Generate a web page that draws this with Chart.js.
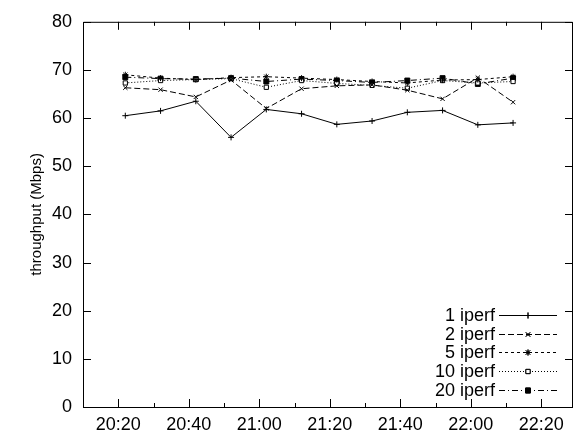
<!DOCTYPE html>
<html>
<head>
<meta charset="utf-8">
<script src="https://cdn.jsdelivr.net/npm/chart.js@4/dist/chart.umd.min.js"></script>
<style>
  html, body { margin: 0; padding: 0; background: #fff; }
  #wrap { width: 578px; height: 439px; }
</style>
</head>
<body>
<div id="wrap"><canvas id="Chart" width="578" height="439"></canvas></div>
<script>
// sample times (hh:mm) and throughput in Mbps
let times = ['20:22', '20:32', '20:42', '20:52', '21:02', '21:12', '21:22', '21:32', '21:42', '21:52', '22:02', '22:12'];
let iperf1 = [60.5, 61.5, 63.5, 56.0, 61.8, 60.9, 58.7, 59.4, 61.2, 61.6, 58.6, 59.0];
let iperf2 = [66.3, 65.9, 64.4, 67.9, 62.0, 66.1, 66.7, 66.9, 65.8, 64.0, 68.4, 63.3];
let iperf5 = [69.0, 68.3, 68.0, 68.4, 68.6, 68.3, 68.0, 67.6, 67.3, 67.9, 68.0, 68.6];
let iperf10 = [67.3, 67.8, 68.0, 68.2, 66.4, 67.8, 67.2, 66.8, 66.2, 67.8, 67.3, 67.6];
let iperf20 = [68.5, 68.2, 68.1, 68.3, 67.6, 68.1, 67.8, 67.4, 67.8, 68.3, 67.1, 68.3];

let xTickLabels = ['20:20', '20:40', '21:00', '21:20', '21:40', '22:00', '22:20'];
let yTicks = [0, 10, 20, 30, 40, 50, 60, 70, 80];

let FONT = '"Liberation Sans", Arial, sans-serif';

function toMinutes(s) {
    let p = s.split(':');
    return parseInt(p[0]) * 60 + parseInt(p[1]);
}

function toPoints(values) {
    return values.map(function (v, i) {
        return {x: toMinutes(times[i]), y: v};
    });
}

let xMajor = xTickLabels.map(toMinutes);
let xMinor = xMajor.map(function (m) { return m + 10; });

function series(label, values, dash, style, fill, radius) {
    return {
        label: label,
        data: toPoints(values),
        borderColor: '#000',
        backgroundColor: fill,
        pointBorderColor: '#000',
        pointBackgroundColor: fill,
        borderWidth: 1,
        borderDash: dash,
        pointStyle: style,
        pointRadius: radius,
        pointBorderWidth: 1,
        fill: false,
        tension: 0
    };
}

// gnuplot style frame with inward ticks on all four sides + key at bottom right
let gnuplotFrame = {
    id: 'gnuplotFrame',
    afterDatasetsDraw: function (chart) {
        let ctx = chart.ctx;
        let a = chart.chartArea;
        let xs = chart.scales.x;
        let ys = chart.scales.y;
        ctx.save();
        ctx.strokeStyle = '#000';
        ctx.lineWidth = 1;
        ctx.setLineDash([]);
        ctx.beginPath();
        ctx.rect(a.left + 0.5, a.top + 0.5, a.right - a.left - 1, a.bottom - a.top);
        yTicks.forEach(function (v) {
            let py = Math.round(ys.getPixelForValue(v)) + 0.5;
            ctx.moveTo(a.left, py); ctx.lineTo(a.left + 8, py);
            ctx.moveTo(a.right, py); ctx.lineTo(a.right - 8, py);
        });
        xMajor.forEach(function (m) {
            let px = Math.round(xs.getPixelForValue(m)) + 0.5;
            ctx.moveTo(px, a.bottom); ctx.lineTo(px, a.bottom - 8);
            ctx.moveTo(px, a.top); ctx.lineTo(px, a.top + 8);
        });
        xMinor.forEach(function (m) {
            if (m > xs.max) return;
            let px = Math.round(xs.getPixelForValue(m)) + 0.5;
            ctx.moveTo(px, a.bottom); ctx.lineTo(px, a.bottom - 4);
            ctx.moveTo(px, a.top); ctx.lineTo(px, a.top + 4);
        });
        ctx.stroke();

        // key
        ctx.font = '18px ' + FONT;
        ctx.fillStyle = '#000';
        ctx.textAlign = 'right';
        ctx.textBaseline = 'middle';
        chart.data.datasets.forEach(function (ds, i) {
            let y = Math.round(315 + i * 18.7);
            ctx.fillText(ds.label, 495, y + 1);
            ctx.beginPath();
            ctx.setLineDash(ds.borderDash);
            ctx.moveTo(499, y + 0.5);
            ctx.lineTo(557, y + 0.5);
            ctx.stroke();
            ctx.setLineDash([]);
            Chart.helpers.drawPoint(ctx, {
                pointStyle: ds.pointStyle,
                radius: ds.pointRadius,
                rotation: 0,
                borderWidth: 1
            }, 528, y + 0.5);
            ctx.fillStyle = ds.pointBackgroundColor;
            ctx.strokeStyle = '#000';
            ctx.fill();
            ctx.stroke();
            ctx.fillStyle = '#000';
        });
        ctx.restore();
    }
};

window.onload = function () {
    let ctx = document.getElementById('Chart').getContext('2d');
    Chart.defaults.font.family = FONT;
    Chart.defaults.font.size = 18;
    Chart.defaults.color = '#000';
    window.myLine = new Chart(ctx, {
        type: 'line',
        data: {
            datasets: [
                series('1 iperf', iperf1, [], 'cross', '#000', 3),
                series('2 iperf', iperf2, [6, 3], 'crossRot', '#000', 3),
                series('5 iperf', iperf5, [3, 3], 'star', '#000', 3),
                series('10 iperf', iperf10, [1, 2], 'rect', '#fff', 3),
                series('20 iperf', iperf20, [6, 3, 1, 3], 'rect', '#000', 3.5)
            ]
        },
        options: {
            responsive: false,
            animation: false,
            layout: {padding: {top: 15, right: 1, left: 0, bottom: 0}},
            plugins: {legend: {display: false}, tooltip: {enabled: false}},
            scales: {
                x: {
                    type: 'linear',
                    min: 1210,
                    max: 1349,
                    afterFit: function (scale) { scale.height = 32; },
                    afterBuildTicks: function (scale) {
                        scale.ticks = xMajor.map(function (m) { return {value: m}; });
                    },
                    ticks: {
                        padding: 7,
                        maxRotation: 0,
                        autoSkip: false,
                        callback: function (value) {
                            return xTickLabels[xMajor.indexOf(value)];
                        }
                    },
                    grid: {display: false, drawTicks: false},
                    border: {display: false}
                },
                y: {
                    min: 0,
                    max: 80,
                    afterFit: function (scale) { scale.width = 83; },
                    afterBuildTicks: function (scale) {
                        scale.ticks = yTicks.map(function (v) { return {value: v}; });
                    },
                    ticks: {padding: 11},
                    grid: {display: false, drawTicks: false},
                    border: {display: false},
                    title: {
                        display: true,
                        text: 'throughput (Mbps)',
                        font: {size: 15},
                        padding: {top: 28, bottom: 0}
                    }
                }
            }
        },
        plugins: [gnuplotFrame]
    });
};
</script>
</body>
</html>
